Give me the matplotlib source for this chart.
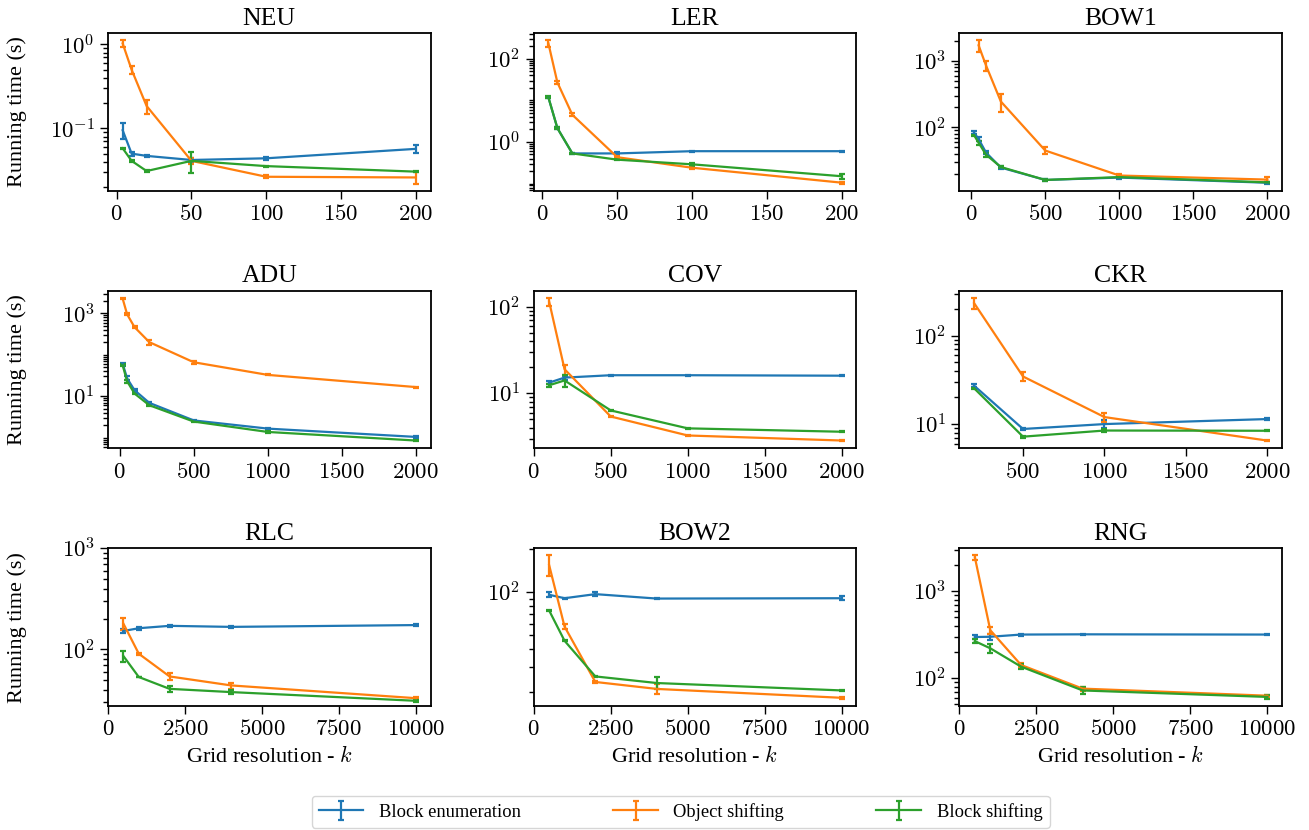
"""
Running time vs grid resolution for the nine benchmark instances.
"""

import numpy as np
import matplotlib
matplotlib.use("Agg")
import matplotlib.pyplot as plt
from matplotlib.ticker import FuncFormatter, LogLocator, MaxNLocator, NullFormatter


plt.rcParams["font.family"] = ["Liberation Serif", "DejaVu Serif"]
plt.rcParams["mathtext.fontset"] = "cm"
plt.rcParams["font.size"] = 16

METHODS = ["Block enumeration", "Object shifting", "Block shifting"]
COLORS = ["#1f77b4", "#ff7f0e", "#2ca02c"]

# ---- data (mean running time, error half-width) ----
neu_k = [4, 10, 20, 50, 100, 200]
neu_block_enum = [0.095, 0.050, 0.047, 0.042, 0.044, 0.057]
neu_block_enum_err = [0.021, 0.003, 0.001, 0.002, 0.002, 0.006]
neu_obj_shift = [1.03, 0.50, 0.185, 0.041, 0.0265, 0.026]
neu_obj_shift_err = [0.095, 0.05, 0.035, 0.003, 0.001, 0.004]
neu_block_shift = [0.058, 0.041, 0.031, 0.041, 0.0355, 0.0305]
neu_block_shift_err = [0.001, 0.001, 0.001, 0.012, 0.0005, 0.0005]

ler_k = [4, 10, 20, 50, 100, 200]
ler_block_enum = [11.8, 2.15, 0.53, 0.53, 0.60, 0.60]
ler_block_enum_err = [0.5, 0.1, 0.02, 0.03, 0.02, 0.02]
ler_obj_shift = [235, 27, 4.5, 0.43, 0.24, 0.105]
ler_obj_shift_err = [45, 2, 0.4, 0.02, 0.01, 0.005]
ler_block_shift = [11.8, 2.15, 0.53, 0.375, 0.29, 0.15]
ler_block_shift_err = [0.6, 0.15, 0.02, 0.01, 0.02, 0.02]

bow1_k = [20, 50, 100, 200, 500, 1000, 2000]
bow1_k_obj = [50, 100, 200, 500, 1000, 2000]
bow1_block_enum = [83, 67, 42, 25, 16.3, 17.7, 14.8]
bow1_block_enum_err = [4, 5, 2, 1, 0.4, 1, 0.4]
bow1_obj_shift = [1700, 850, 245, 45, 19, 16.5]
bow1_obj_shift_err = [330, 140, 75, 5, 1, 1.5]
bow1_block_shift = [76, 59, 39, 25.5, 16.3, 18, 15]
bow1_block_shift_err = [2, 4, 3, 1, 0.4, 0.5, 0.4]

adu_k = [20, 50, 100, 200, 500, 1000, 2000]
adu_block_enum = [61, 27, 14, 6.9, 2.6, 1.65, 1.04]
adu_block_enum_err = [4, 3, 1, 0.3, 0.1, 0.08, 0.05]
adu_obj_shift = [2270, 950, 466, 202, 66, 32.7, 16.6]
adu_obj_shift_err = [100, 50, 20, 25, 5, 1, 0.5]
adu_block_shift = [56, 23, 11.6, 6.05, 2.44, 1.37, 0.85]
adu_block_shift_err = [3, 2, 0.5, 0.2, 0.1, 0.05, 0.03]

cov_k = [100, 200, 500, 1000, 2000]
cov_block_enum = [13.3, 15.2, 16.2, 16.2, 16.0]
cov_block_enum_err = [0.5, 0.8, 0.3, 0.3, 0.3]
cov_obj_shift = [115, 19, 5.4, 3.26, 2.85]
cov_obj_shift_err = [12, 2.5, 0.1, 0.05, 0.05]
cov_block_shift = [12.4, 14.1, 6.35, 3.94, 3.6]
cov_block_shift_err = [0.5, 2.2, 0.1, 0.05, 0.05]

ckr_k = [200, 500, 1000, 2000]
ckr_block_enum = [27.2, 8.8, 10.0, 11.4]
ckr_block_enum_err = [1, 0.2, 1, 0.2]
ckr_obj_shift = [234, 34.6, 12.0, 6.5]
ckr_obj_shift_err = [35, 4, 1.4, 0.1]
ckr_block_shift = [25.4, 7.2, 8.45, 8.4]
ckr_block_shift_err = [0.5, 0.2, 0.3, 0.1]

rlc_k = [500, 1000, 2000, 4000, 10000]
rlc_block_enum = [152, 162, 171, 167, 174]
rlc_block_enum_err = [8, 6, 3, 5, 3]
rlc_obj_shift = [180, 90.6, 54, 44, 32.9]
rlc_obj_shift_err = [25, 2, 4, 3, 0.8]
rlc_block_shift = [86, 53.3, 40.7, 37.8, 31]
rlc_block_shift_err = [11, 0.5, 2.5, 2, 0.7]

bow2_k = [500, 1000, 2000, 4000, 10000]
bow2_block_enum = [96, 90.8, 97, 90.3, 90.8]
bow2_block_enum_err = [4, 1, 3, 1, 3]
bow2_obj_shift = [155, 57.5, 23.5, 21, 18.2]
bow2_obj_shift_err = [26, 2, 0.5, 1.8, 0.3]
bow2_block_shift = [74.5, 45.7, 25.7, 23.1, 20.5]
bow2_block_shift_err = [1, 0.5, 0.3, 2.2, 0.3]

rng_k = [500, 1000, 2000, 4000, 10000]
rng_block_enum = [298, 300, 318, 320, 318]
rng_block_enum_err = [15, 25, 8, 3, 3]
rng_obj_shift = [2450, 357, 142, 76, 63]
rng_obj_shift_err = [130, 35, 8, 4, 2]
rng_block_shift = [267, 221, 136, 72.4, 61]
rng_block_shift_err = [15, 28, 9, 6, 3]

PANELS = [
    ("NEU", [(neu_k, neu_block_enum, neu_block_enum_err),
             (neu_k, neu_obj_shift, neu_obj_shift_err),
             (neu_k, neu_block_shift, neu_block_shift_err)]),
    ("LER", [(ler_k, ler_block_enum, ler_block_enum_err),
             (ler_k, ler_obj_shift, ler_obj_shift_err),
             (ler_k, ler_block_shift, ler_block_shift_err)]),
    ("BOW1", [(bow1_k, bow1_block_enum, bow1_block_enum_err),
              (bow1_k_obj, bow1_obj_shift, bow1_obj_shift_err),
              (bow1_k, bow1_block_shift, bow1_block_shift_err)]),
    ("ADU", [(adu_k, adu_block_enum, adu_block_enum_err),
             (adu_k, adu_obj_shift, adu_obj_shift_err),
             (adu_k, adu_block_shift, adu_block_shift_err)]),
    ("COV", [(cov_k, cov_block_enum, cov_block_enum_err),
             (cov_k, cov_obj_shift, cov_obj_shift_err),
             (cov_k, cov_block_shift, cov_block_shift_err)]),
    ("CKR", [(ckr_k, ckr_block_enum, ckr_block_enum_err),
             (ckr_k, ckr_obj_shift, ckr_obj_shift_err),
             (ckr_k, ckr_block_shift, ckr_block_shift_err)]),
    ("RLC", [(rlc_k, rlc_block_enum, rlc_block_enum_err),
             (rlc_k, rlc_obj_shift, rlc_obj_shift_err),
             (rlc_k, rlc_block_shift, rlc_block_shift_err)]),
    ("BOW2", [(bow2_k, bow2_block_enum, bow2_block_enum_err),
              (bow2_k, bow2_obj_shift, bow2_obj_shift_err),
              (bow2_k, bow2_block_shift, bow2_block_shift_err)]),
    ("RNG", [(rng_k, rng_block_enum, rng_block_enum_err),
             (rng_k, rng_obj_shift, rng_obj_shift_err),
             (rng_k, rng_block_shift, rng_block_shift_err)]),
]

# panels whose x axis starts at 0 in the original
ZERO_LEFT = {"COV", "RLC", "BOW2", "RNG"}


def log_label(v, pos):
    e = int(round(np.log10(v)))
    return r"$10^{%d}$" % e


def main():
    fig, axes = plt.subplots(3, 3, figsize=(13.09, 8.3), dpi=100)
    fig.subplots_adjust(left=0.0825, right=0.9794, top=0.9602, bottom=0.1494,
                        wspace=0.32, hspace=0.634)

    handles = []
    for ax, (name, series) in zip(axes.flat, PANELS):
        for (k, y, err), color, label in zip(series, COLORS, METHODS):
            h = ax.errorbar(k, y, yerr=err, color=color, linewidth=1.6,
                            elinewidth=1.6, capsize=2, capthick=1.6, label=label)
            if name == "NEU":
                handles.append(h)
        ax.set_yscale("log")
        ax.set_title(name, fontsize=18.5)
        if name == "RLC":
            ax.set_ylim(top=1000)
        if name in ZERO_LEFT:
            ax.set_xlim(left=0)
        ax.xaxis.set_major_locator(MaxNLocator(nbins=5, steps=[1, 2, 2.5, 5, 10]))
        ax.xaxis.set_major_formatter(FuncFormatter(lambda v, p: f"${v:g}$"))
        ax.yaxis.set_major_formatter(FuncFormatter(log_label))
        ax.yaxis.set_minor_locator(LogLocator(base=10, subs=np.arange(1, 10), numticks=100))
        ax.yaxis.set_minor_formatter(NullFormatter())
        ax.tick_params(which="major", length=6, width=1.0, labelsize=16.5)
        ax.tick_params(which="minor", length=3.5, width=1.0)
        for sp in ax.spines.values():
            sp.set_linewidth(1.3)

    for ax in axes[:, 0]:
        ax.set_ylabel("Running time (s)", fontsize=16)
        ax.yaxis.set_label_coords(-0.25, 0.5)
    for ax in axes[-1, :]:
        ax.set_xlabel(r"Grid resolution - $k$", fontsize=16)

    fig.legend(handles, METHODS, loc="lower center", bbox_to_anchor=(0.52, 0.0),
               ncol=3, fontsize=13.3, handlelength=2.4, handletextpad=0.85,
               columnspacing=5.0, borderaxespad=0.1)

    fig.savefig("out.png", dpi=100)


if __name__ == "__main__":
    main()
